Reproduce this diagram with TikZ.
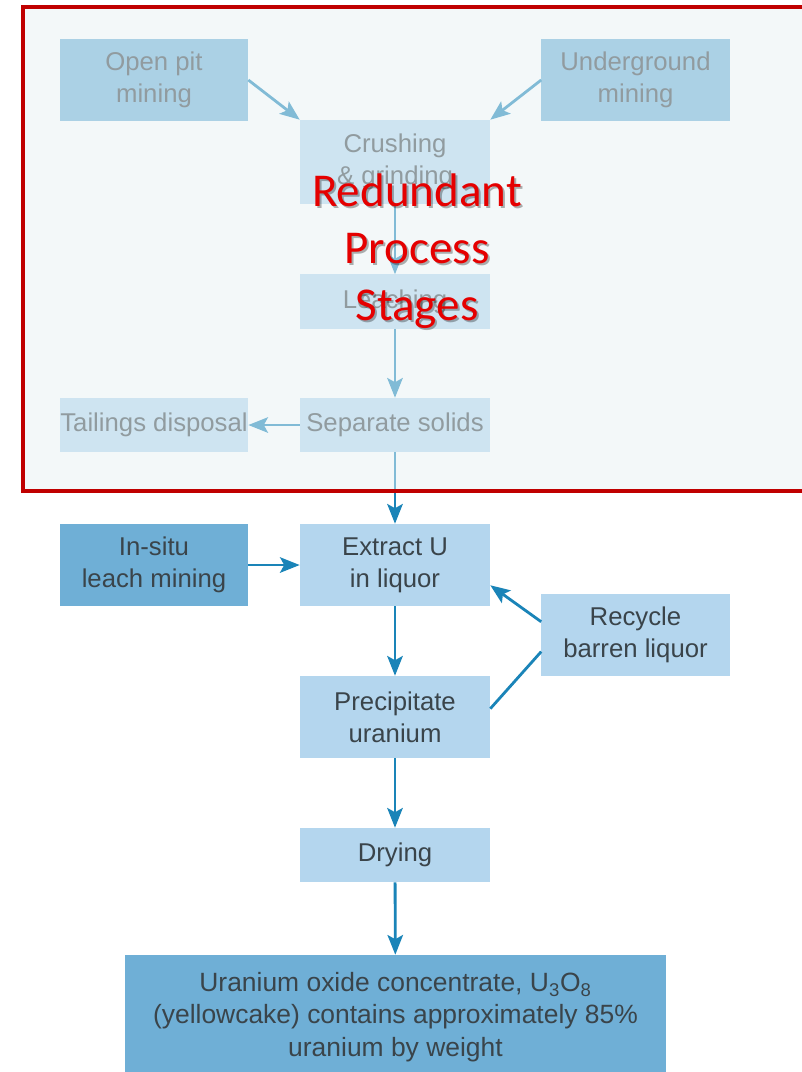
\documentclass[tikz,border=0pt]{standalone}
\usepackage{fontspec}
\setmainfont{Liberation Sans}
\newfontfamily\redfont{Carlito}
\usetikzlibrary{arrows.meta}

\begin{document}
\begin{tikzpicture}[x=0.025cm,y=-0.025cm]

	\definecolor{boxblue}{RGB}{180,214,238}
	\definecolor{darkbox}{RGB}{111,175,214}
	\definecolor{arrowblue}{RGB}{26,132,184}
	\definecolor{txtgray}{RGB}{58,68,74}
	\definecolor{haze}{RGB}{232,243,245}
	\definecolor{darkred}{RGB}{192,0,0}

	\useasboundingbox (0,0) rectangle (802,1072);
	\fill[white] (0,0) rectangle (802,1072);

	\tikzstyle{edge} = [draw,line width=2pt,arrowblue,-{Stealth[length=14pt,width=11pt,inset=3pt]}]
	\tikzstyle{line} = [draw,line width=2pt,arrowblue]

	% upper stages
	\tikzset{vertex/.style = {shape=rectangle,fill=darkbox,text=txtgray,align=center,font=\fontsize{18.3}{22.5}\selectfont,minimum width=4.7cm,minimum height=2.05cm,inner sep=0pt}}
	\node[vertex] (pit) at (154,80) {Open pit\\mining};
	\node[vertex] (ug) at (635.5,80) {Underground\\mining};

	\tikzset{vertex/.style = {shape=rectangle,fill=boxblue,text=txtgray,align=center,font=\fontsize{18.3}{22.5}\selectfont,minimum width=4.75cm,minimum height=2.1cm,inner sep=0pt}}
	\node[vertex] (crush) at (395,162) {Crushing\\\& grinding};

	\tikzset{vertex/.style = {shape=rectangle,fill=boxblue,text=txtgray,align=center,font=\fontsize{18.3}{22.5}\selectfont,minimum width=4.75cm,minimum height=1.35cm,inner sep=0pt}}
	\node[vertex] (leach) at (395,301.5) {Leaching};
	\node[vertex] (sep) at (395,425) {Separate solids};
	\node[vertex,minimum width=4.7cm] (tail) at (154,425) {Tailings disposal};

	\draw[edge] (pit.east) to (crush.north west);
	\draw[edge] (ug.west) to (crush.north east);
	\draw[edge] (crush) to (leach);
	\draw[edge] (leach) to (sep);
	\draw[edge] (sep) to (tail);

	% lower stages
	\tikzset{vertex/.style = {shape=rectangle,fill=boxblue,text=txtgray,align=center,font=\fontsize{18.3}{22.5}\selectfont,minimum width=4.75cm,minimum height=2.05cm,inner sep=0pt}}
	\node[vertex] (ext) at (395,565) {Extract U\\in liquor};
	\node[vertex] (prec) at (395,717) {Precipitate\\uranium};
	\node[vertex,minimum width=4.7cm] (rec) at (635.5,635) {Recycle\\barren liquor};
	\node[vertex,minimum height=1.35cm] (dry) at (395,855) {Drying};
	\node[vertex,fill=darkbox,minimum width=4.7cm] (isl) at (154,565) {In-situ\\leach mining};
	\node[vertex,fill=darkbox,minimum width=13.525cm,minimum height=3.1cm,font=\fontsize{18.8}{23}\selectfont] (uox) at (395.5,1017)
		{Uranium oxide concentrate, U\textsubscript{3}O\textsubscript{8}\\(yellowcake) contains approximately 85\%\\uranium by weight};

	\draw[edge] (sep) to (ext);
	\draw[edge] (isl) to (ext);
	\draw[edge] (ext) to (prec);
	\draw[edge] (rec.172) to (ext.-12);
	\draw[line] (prec.5) to (rec.190);
	\draw[edge] (prec) to (dry);
	\draw[edge] (dry) to (uox);

	% faded frame
	\fill[haze,opacity=0.5] (23,7) rectangle (806,491);
	\draw[darkred,line width=2.9pt] (23,7) rectangle (806,491);
	\node[text=black,opacity=0.3,align=center,font=\redfont\fontsize{33.5}{40.5}\selectfont] (shade) at (419,253.5) {Redundant\\Process\\Stages};
	\node[text=red!90!black,align=center,font=\redfont\fontsize{33.5}{40.5}\selectfont] (note) at (417,251.5) {Redundant\\Process\\Stages};
\end{tikzpicture}
\end{document}
